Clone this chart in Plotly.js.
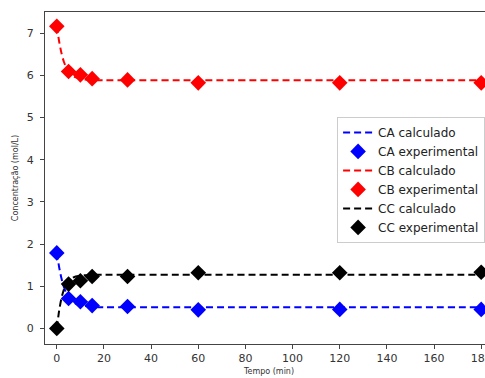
<!DOCTYPE html>
<html>
<head>
<meta charset="utf-8">
<script src="https://cdn.plot.ly/plotly-3.0.1.min.js"></script>
<style>
html,body{margin:0;padding:0;overflow:hidden;background:#fff;}
#chart{width:500px;height:378px;}
</style>
</head>
<body>
<div id="chart"></div>
<script>
// Experimental time points (min)
const tExp = [0, 5, 10, 15, 30, 60, 120, 180];
const caExp = [1.79, 0.71, 0.63, 0.54, 0.52, 0.44, 0.45, 0.45];
const cbExp = [7.16, 6.09, 6.01, 5.92, 5.89, 5.82, 5.82, 5.82];
const ccExp = [0.00, 1.05, 1.13, 1.23, 1.23, 1.32, 1.32, 1.33];

// Calculated (model) curves
const tCalc = [0, 1, 2, 3, 4, 5, 6, 8, 10, 12, 15, 20, 30, 60, 120, 180];
const caCalc = [1.80, 1.45, 1.18, 0.98, 0.84, 0.74, 0.67, 0.59, 0.55, 0.53, 0.51, 0.50, 0.50, 0.50, 0.50, 0.50];
const cbCalc = [7.17, 6.80, 6.52, 6.32, 6.18, 6.08, 6.01, 5.95, 5.92, 5.90, 5.89, 5.88, 5.88, 5.88, 5.88, 5.88];
const ccCalc = [0.00, 0.42, 0.72, 0.92, 1.05, 1.13, 1.18, 1.23, 1.25, 1.26, 1.27, 1.27, 1.27, 1.27, 1.27, 1.27];

const names = ['CA', 'CB', 'CC'];
const colors = ['#0000ff', '#ff0000', '#000000'];
const calc = [caCalc, cbCalc, ccCalc];
const exp = [caExp, cbExp, ccExp];

const traces = [];
for (let i = 0; i < 3; i++) {
  traces.push({
    x: tCalc, y: calc[i], type: 'scatter', mode: 'lines',
    name: names[i] + ' calculado', line: {color: colors[i], width: 2, dash: '7px,4px', shape: 'spline', smoothing: 0.6}
  });
  traces.push({
    x: tExp, y: exp[i], type: 'scatter', mode: 'markers',
    name: names[i] + ' experimental', marker: {color: colors[i], symbol: 'diamond', size: 12}
  });
}

const axisCommon = {
  showgrid: false, zeroline: false, showline: true, mirror: true,
  linecolor: '#444', linewidth: 1, ticks: 'outside', ticklen: 4, tickcolor: '#444',
  tickfont: {family: 'DejaVu Sans', size: 11, color: '#333'}
};

const layout = {
  width: 500, height: 378,
  margin: {l: 45, r: 7, t: 12, b: 34},
  paper_bgcolor: '#fff', plot_bgcolor: '#fff',
  showlegend: true,
  xaxis: Object.assign({}, axisCommon, {
    range: [-5, 185], tickmode: 'linear', tick0: 0, dtick: 20,
    title: {text: 'Tempo (min)', font: {family: 'DejaVu Sans', size: 8, color: '#333'}, standoff: 4}
  }),
  yaxis: Object.assign({}, axisCommon, {
    range: [-0.37, 7.5], tickmode: 'linear', tick0: 0, dtick: 1,
    ticklabelstandoff: 4,
    title: {text: 'Concentração (mol/L)', font: {family: 'DejaVu Sans', size: 8, color: '#333'}, standoff: 6}
  }),
  legend: {
    x: 0.652, y: 0.684, xanchor: 'left', yanchor: 'top',
    bgcolor: 'rgba(255,255,255,0.85)', bordercolor: '#ccc', borderwidth: 1,
    font: {family: 'DejaVu Sans', size: 12, color: '#222'},
    tracegroupgap: 0, itemwidth: 30
  }
};

Plotly.newPlot('chart', traces, layout, {displayModeBar: false, staticPlot: true});
</script>
</body>
</html>
